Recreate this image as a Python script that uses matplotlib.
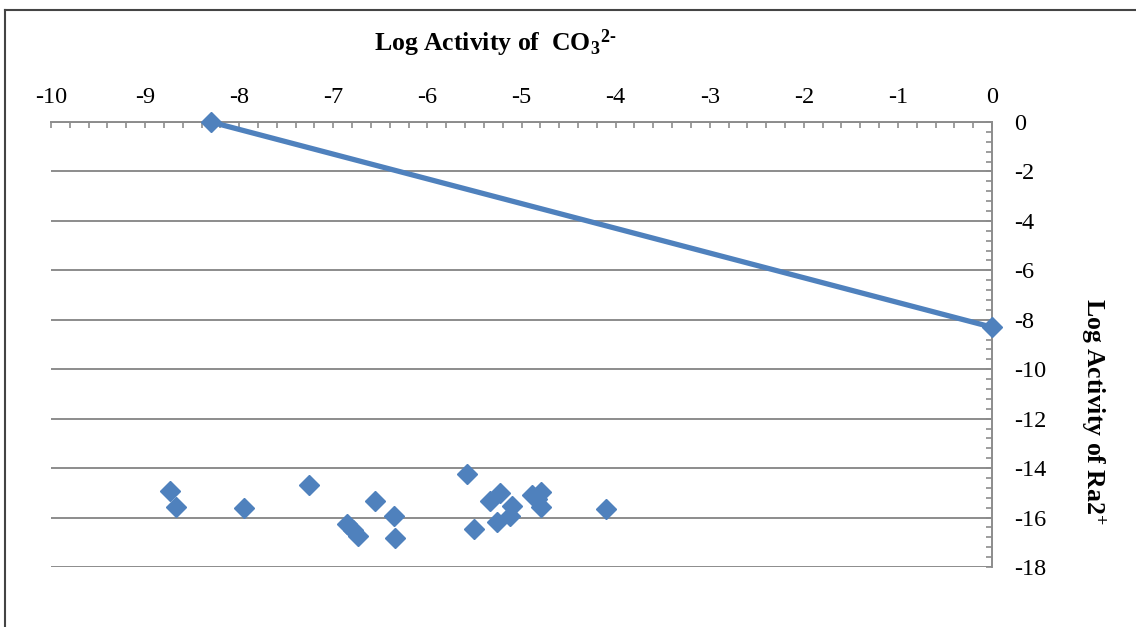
import matplotlib
matplotlib.use("Agg")
import matplotlib.pyplot as plt
from matplotlib.lines import Line2D
from matplotlib.ticker import MultipleLocator

plt.rcParams['font.family'] = ['Liberation Serif', 'DejaVu Serif']
plt.rcParams['mathtext.fontset'] = 'custom'
plt.rcParams['mathtext.rm'] = 'Liberation Serif:bold'
plt.rcParams['mathtext.it'] = 'Liberation Serif:bold'
plt.rcParams['mathtext.bf'] = 'Liberation Serif:bold'

# saturation line
line_co3 = [-8.3, 0.0]
line_ra = [0.0, -8.3]

# measured samples
sample_co3 = [-8.74, -8.67, -7.95, -7.26, -6.85, -6.79, -6.74, -6.56, -6.35, -6.34,
              -5.58, -5.51, -5.34, -5.23, -5.10, -5.12, -5.26, -4.89, -4.79, -4.79,
              -4.84, -4.10]
sample_ra = [-14.93, -15.58, -15.60, -14.68, -16.26, -16.50, -16.74, -15.33, -15.94, -16.82,
             -14.24, -16.46, -15.33, -15.02, -15.53, -15.93, -16.20, -15.09, -14.96, -15.56,
             -15.25, -15.67]

x_ticks = [-10, -9, -8, -7, -6, -5, -4, -3, -2, -1, 0]
x_labels = ['-10', '-9', '-8', '-7', '-6', '-5', '-4', '-3', '-2', '-1', '0']
y_ticks = [0, -2, -4, -6, -8, -10, -12, -14, -16, -18]
y_labels = ['0', '-2', '-4', '-6', '-8', '-10', '-12', '-14', '-16', '-18']

blue = '#4F81BD'
gray = '#8C8C8C'

W, H = 1136, 627
fig = plt.figure(figsize=(W / 100, H / 100), dpi=100)
ax = fig.add_axes([51 / W, 1 - 567 / H, (992 - 51) / W, (567 - 122) / H])

ax.set_xlim(-10, 0)
ax.set_ylim(-18, 0)

# horizontal gridlines only
ax.yaxis.grid(True, color=gray, linewidth=1.4)
ax.set_axisbelow(True)

for s in ['left', 'bottom']:
    ax.spines[s].set_visible(False)
for s in ['top', 'right']:
    ax.spines[s].set_color(gray)
    ax.spines[s].set_linewidth(1.4)

ax.xaxis.tick_top()
ax.yaxis.tick_right()
ax.set_xticks(x_ticks)
ax.set_xticklabels(x_labels)
ax.set_yticks(y_ticks)
ax.set_yticklabels(y_labels)
ax.xaxis.set_minor_locator(MultipleLocator(0.2))
ax.yaxis.set_minor_locator(MultipleLocator(0.4))
ax.tick_params(which='both', direction='in', color=gray, width=1.2, length=4)
ax.tick_params(axis='x', which='major', pad=10, labelsize=17.5)
ax.tick_params(axis='y', which='major', pad=16, labelsize=17.5)
for lab in ax.get_yticklabels():
    lab.set_horizontalalignment('left')

ax.plot(line_co3, line_ra, color=blue, linewidth=3.8, marker='D', markersize=10,
        clip_on=False, zorder=3)
ax.plot(sample_co3, sample_ra, linestyle='none', color=blue, marker='D', markersize=10,
        clip_on=False, zorder=3)

fig.text(374 / W, 1 - 51 / H, r'Log Activity of  CO$_3$$^{2\text{-}}$', fontsize=18.5,
         fontweight='bold', ha='left', va='baseline')
fig.text(1093 / W, 1 - 411 / H, r'Log Activity of Ra2$^{+}$', fontsize=18.5,
         fontweight='bold', rotation=-90, ha='center', va='center')

# frame around the picture
fig.add_artist(Line2D([5 / W, 1.0], [1 - 10 / H, 1 - 10 / H], transform=fig.transFigure,
                      color='#444444', linewidth=1.5))
fig.add_artist(Line2D([5 / W, 5 / W], [0.0, 1 - 10 / H], transform=fig.transFigure,
                      color='#444444', linewidth=1.5))

fig.savefig('out.png', dpi=100)
